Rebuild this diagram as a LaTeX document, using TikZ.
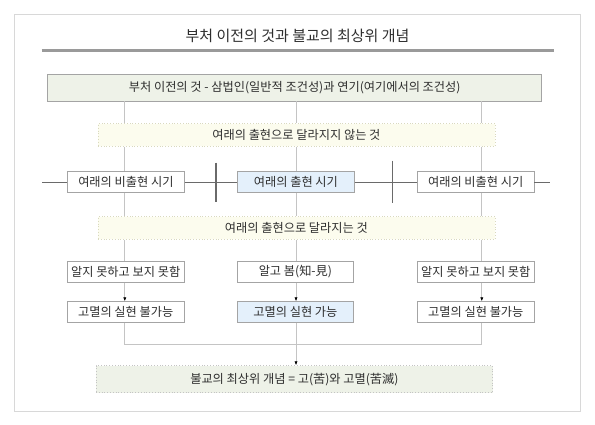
\documentclass[tikz,border=0pt]{standalone}
\usepackage{fontspec}
\setmainfont{Noto Sans CJK KR}
\usetikzlibrary{arrows.meta}
\definecolor{framegray}{HTML}{D8D8D8}
\definecolor{rulegray}{HTML}{9A9A9A}
\definecolor{boxgray}{HTML}{A4A4A4}
\definecolor{linegray}{HTML}{C4C4C4}
\definecolor{timegray}{HTML}{6A6A6A}
\definecolor{textgray}{HTML}{2E2E2E}
\definecolor{sagefill}{HTML}{EEF2E8}
\definecolor{creamfill}{HTML}{FCFCEE}
\definecolor{creamline}{HTML}{D9D9BE}
\definecolor{skyfill}{HTML}{E4F0FB}

\begin{document}
\begin{tikzpicture}[x = 1pt, y = -1pt,
  box/.style = {draw = boxgray, fill = white, line width = 0.8pt, minimum width = 116.5pt, minimum height = 20.6pt, inner sep = 0pt, text = textgray, font = \fontsize{12.2}{13}\selectfont},
  band/.style = {draw = creamline, fill = creamfill, dotted, line width = 0.8pt, minimum width = 397pt, minimum height = 22.4pt, inner sep = 0pt, text = textgray, font = \fontsize{12.2}{13}\selectfont},
  conn/.style = {linegray, line width = 0.7pt},
  arr/.style = {conn, -{Latex[length = 4pt, width = 3.2pt, color = black]}},
  tick/.style = {timegray, line width = 1.3pt}]
\useasboundingbox (0, 0) rectangle (595, 425);
\draw[framegray, line width = 0.8pt] (14.5, 14.5) rectangle (580.5, 411.5);
\node[text = textgray, font = \fontsize{15}{16}\selectfont] (title) at (297.5, 36.0){부처 이전의 것과 불교의 최상위 개념};
\draw[rulegray, line width = 2.4pt] (41.5, 50.5) -- (553.5, 50.5);
\node[box, fill = sagefill, minimum width = 494pt, minimum height = 26.7pt] (base) at (294.7, 87.7){부처 이전의 것 - 삼법인(일반적 조건성)과 연기(여기에서의 조건성)};
\node[band] (same) at (296.4, 135.0){여래의 출현으로 달라지지 않는 것};
\node[box] (eraL) at (125.9, 182.0){여래의 비출현 시기};
\node[box, fill = skyfill] (eraC) at (295.9, 182.0){여래의 출현 시기};
\node[box] (eraR) at (475.7, 182.0){여래의 비출현 시기};
\node[band] (diff) at (296.4, 228.0){여래의 출현으로 달라지는 것};
\node[box] (seeL) at (125.7, 271.9){알지 못하고 보지 못함};
\node[box] (seeC) at (295.4, 271.9){알고 봄(知-見)};
\node[box] (seeR) at (475.8, 271.9){알지 못하고 보지 못함};
\node[box] (endL) at (125.7, 312.0){고멸의 실현 불가능};
\node[box, fill = skyfill] (endC) at (295.4, 312.0){고멸의 실현 가능};
\node[box] (endR) at (475.8, 312.0){고멸의 실현 불가능};
\node[band, draw = linegray, fill = sagefill, minimum width = 396.7pt, minimum height = 27pt] (goal) at (294.4, 379.2){불교의 최상위 개념 = 고(苦)와 고멸(苦滅)};
\coordinate (colL) at (124.8, 0);
\coordinate (colC) at (296.0, 0);
\coordinate (colR) at (481.8, 0);
\coordinate (join) at (296.0, 344.2);
\coordinate (timeW) at (42.0, 182.0);
\coordinate (timeE) at (550.0, 182.0);
\foreach \a/\b/\c in {base/same/colL, base/same/colC, base/same/colR, same/eraL/colL, same/eraC/colC, same/eraR/colR, eraL/diff/colL, eraC/diff/colC, eraR/diff/colR, diff/seeL/colL, diff/seeC/colC, diff/seeR/colR}
  \draw[conn] (\a.south -| \c) -- (\b.north -| \c);
\draw[arr] (seeL.south -| colL) -- (endL.north -| colL);
\draw[arr] (seeC.south -| colC) -- (endC.north -| colC);
\draw[arr] (seeR.south -| colR) -- (endR.north -| colR);
\draw[conn] (endL.south -| colL) |- (join) -| (endR.south -| colR);
\draw[arr] (endC.south -| colC) -- (goal.north -| colC);
\draw[timegray, line width = 0.8pt] (timeW) -- (eraL.west);
\draw[timegray, line width = 0.8pt] (eraL.east) -- (eraC.west);
\draw[timegray, line width = 0.8pt] (eraC.east) -- (eraR.west);
\draw[timegray, line width = 0.8pt] (eraR.east) -- (timeE);
\draw[tick] (216.0, 162.7) -- (216.0, 201.7);
\draw[tick] (392.5, 160.7) -- (392.5, 203.3);
\end{tikzpicture}
\end{document}
